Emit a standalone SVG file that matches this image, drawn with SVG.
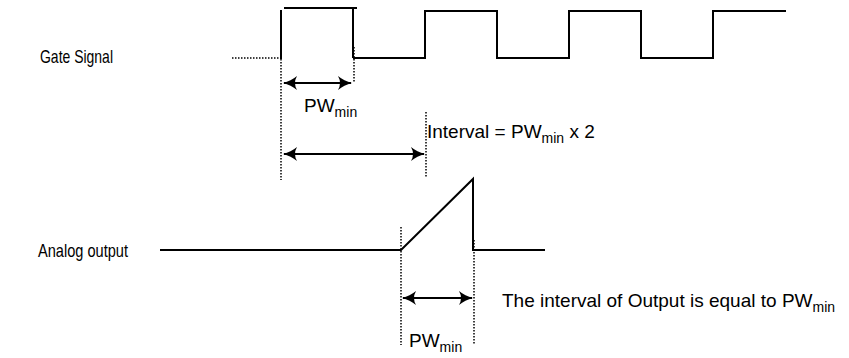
<svg xmlns="http://www.w3.org/2000/svg" width="849" height="358" viewBox="0 0 849 358">
<style>
  text { font-family: "Liberation Sans", Arial, Helvetica, sans-serif; font-size: 19px; fill: #000; }
  .sub { font-size: 14px; }
  .wave { fill: none; stroke: #000; stroke-width: 2; }
  .dot { fill: none; stroke: #000; stroke-width: 1.5; stroke-dasharray: 1.5 1.5; }
  .arr { fill: none; stroke: #000; stroke-width: 2; marker-start: url(#ah); marker-end: url(#ah); }
</style>
<defs>
  <marker id="ah" markerUnits="userSpaceOnUse" markerWidth="15" markerHeight="14" refX="13" refY="7" orient="auto-start-reverse" viewBox="0 0 15 14">
    <path d="M0,0 Q6,5 14,7 Q6,9 0,14 Q4,7 0,0 Z" fill="#000"/>
  </marker>
</defs>
<rect width="849" height="358" fill="#fff"/>

<g id="label-gate"><text x="40" y="63" textLength="73" lengthAdjust="spacingAndGlyphs">Gate Signal</text></g>
<g id="label-analog"><text x="38" y="257" textLength="90" lengthAdjust="spacingAndGlyphs">Analog output</text></g>

<g id="gate-signal">
  <line class="dot" x1="232" y1="58" x2="281" y2="58"/>
  <line class="wave" x1="281" y1="10" x2="281" y2="59"/>
  <line class="wave" x1="284" y1="8" x2="357" y2="8"/>
  <line class="wave" x1="353" y1="8" x2="353" y2="58"/>
  <polyline class="wave" points="353,58 425,58 425,11 497,11 497,58 569,58 569,11 641,11 641,58 713,58 713,11 786,11"/>
</g>

<g id="analog-output">
  <polyline class="wave" points="160,250 401,250 473,179 473,250 545,250"/>
</g>

<g id="guides">
  <line class="dot" x1="281" y1="59" x2="281" y2="180"/>
  <line class="dot" x1="354" y1="47" x2="354" y2="82"/>
  <line class="dot" x1="426" y1="112" x2="426" y2="178"/>
  <line class="dot" x1="401" y1="227" x2="401" y2="345"/>
  <line class="dot" x1="474" y1="240" x2="474" y2="345"/>
</g>

<g id="connectors">
  <line class="arr" x1="284" y1="83" x2="351" y2="83"/>
  <line class="arr" x1="284" y1="154" x2="424" y2="154"/>
  <line class="arr" x1="403" y1="298" x2="472" y2="298"/>
</g>

<g id="label-pw1"><text x="304" y="112">PW<tspan class="sub" dy="5">min</tspan></text></g>
<g id="label-interval"><text x="427" y="138">Interval = PW<tspan class="sub" dy="5">min</tspan><tspan dy="-5"> x 2</tspan></text></g>
<g id="label-pw2"><text x="409" y="347">PW<tspan class="sub" dy="5">min</tspan></text></g>
<g id="label-output"><text x="502" y="307">The interval of Output is equal to PW<tspan class="sub" dy="5">min</tspan></text></g>
</svg>
